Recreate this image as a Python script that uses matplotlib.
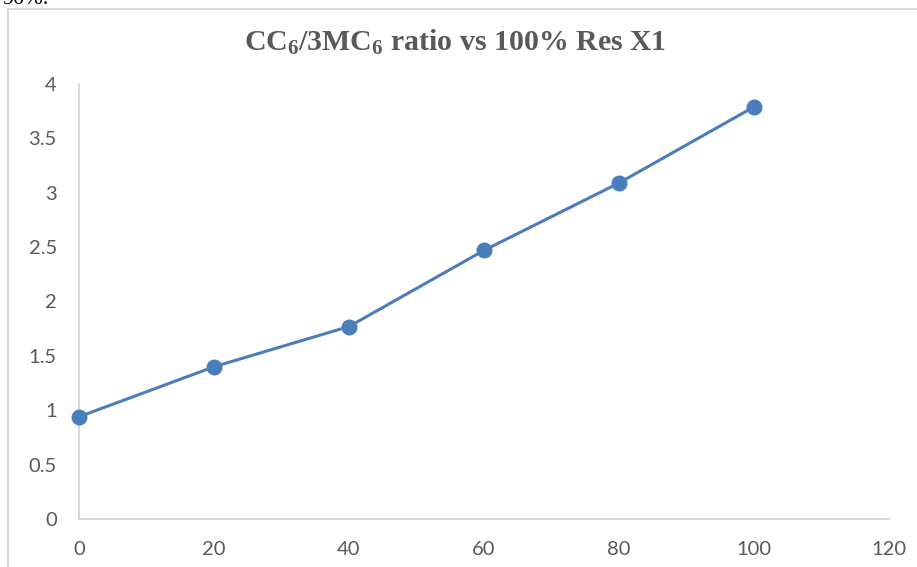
import matplotlib
matplotlib.use("Agg")
import matplotlib.pyplot as plt
from matplotlib.patches import Rectangle

# datos
res_x1 = [0, 20, 40, 60, 80, 100]
ratio = [0.94, 1.40, 1.77, 2.47, 3.09, 3.79]
xticks = [0, 20, 40, 60, 80, 100, 120]
yticks = [0, 0.5, 1, 1.5, 2, 2.5, 3, 3.5, 4]
ytick_labels = ['0', '0.5', '1', '1.5', '2', '2.5', '3', '3.5', '4']

plt.rcParams['mathtext.fontset'] = 'custom'
plt.rcParams['mathtext.rm'] = 'Liberation Serif:bold'
plt.rcParams['mathtext.it'] = 'Liberation Serif:bold'
plt.rcParams['mathtext.bf'] = 'Liberation Serif:bold'

gris = '#595959'
azul = '#4a7ebb'

fig = plt.figure(figsize=(9.17, 5.67), dpi=100)
ax = fig.add_axes([79/917, 1-519/567, (889-79)/917, (519-84)/567])

# marco del grafico (se corta a la derecha y abajo)
fig.patches.append(Rectangle((8/917, -0.05), 1.1, (567-9)/567 + 0.05,
                             transform=fig.transFigure, fill=False,
                             edgecolor='#d9d9d9', linewidth=1.5))

# texto del documento cortado arriba
fig.text(2/917, 1-4/567, '90%.', fontsize=16, family='Liberation Serif',
         va='baseline', color='black')

ax.plot(res_x1, ratio, color=azul, linewidth=2.2, marker='o',
        markersize=10.5, clip_on=False, zorder=3)

ax.set_xlim(0, 120)
ax.set_ylim(0, 4)
ax.set_xticks(xticks)
ax.set_yticks(yticks)
ax.set_yticklabels(ytick_labels)

for s in ['top', 'right']:
    ax.spines[s].set_visible(False)
for s in ['left', 'bottom']:
    ax.spines[s].set_color('#d0d0d0')
    ax.spines[s].set_linewidth(1.2)

ax.tick_params(axis='both', length=0, labelsize=14.5, labelcolor=gris)
ax.tick_params(axis='y', pad=16)
ax.tick_params(axis='x', pad=16)
for lab in ax.get_xticklabels() + ax.get_yticklabels():
    lab.set_family('Lato')

fig.text(455/917, 1-42/567, r'CC$_6$/3MC$_6$ ratio vs 100% Res X1',
         ha='center', va='center', fontsize=21.5, fontweight='bold',
         family='Liberation Serif', color=gris)

fig.savefig('out.png', dpi=100)
